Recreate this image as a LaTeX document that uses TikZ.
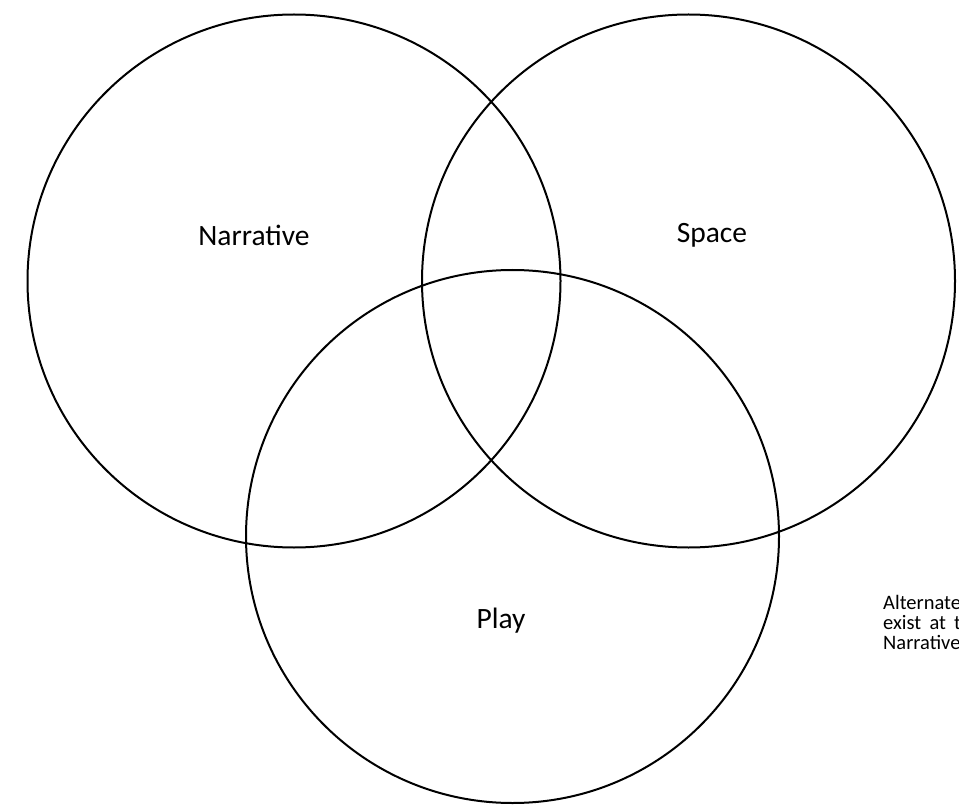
\documentclass[tikz,border=0pt]{standalone}
\usepackage{fontspec}
\setmainfont{Carlito}
\begin{document}
\begin{tikzpicture}[x=1pt,y=-1pt,
  ring/.style={draw=black,line width=2pt},
  lbl/.style={font=\fontsize{29.5}{34}\selectfont,inner sep=0pt,anchor=base},
  note/.style={font=\fontsize{20.5}{24}\selectfont,inner sep=0pt,anchor=base west}]
\useasboundingbox (0,0) rectangle (959,805);
\clip (0,0) rectangle (959,805);
\draw[ring] (294,281) circle (266.5);
\draw[ring] (688.5,281) circle (266.5);
\draw[ring] (512.5,536.5) circle (266.5);
\node[lbl] (narr) at (254,246) {Narrative};
\node[lbl] (space) at (712,243) {Space};
\node[lbl] (play) at (501,628) {Play};
\node[note] (n1) at (883,609) {Alternate};
\node[note] (n2) at (883,629) {exist\hspace{0.4em}at\hspace{0.4em}the};
\node[note] (n3) at (883,649) {Narrative};
\end{tikzpicture}
\end{document}
